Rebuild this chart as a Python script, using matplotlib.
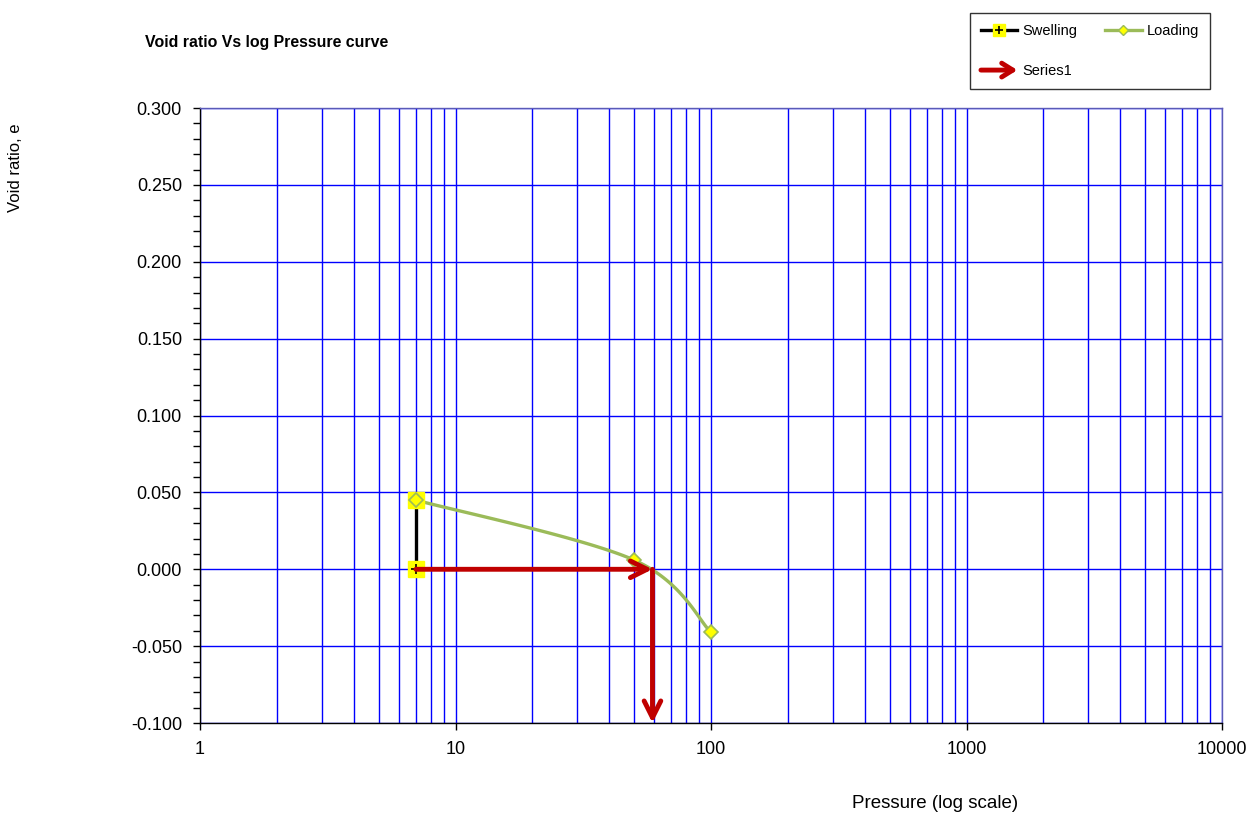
import numpy as np
import matplotlib
matplotlib.use("Agg")
import matplotlib.pyplot as plt
from matplotlib.lines import Line2D
from matplotlib.legend_handler import HandlerBase

plt.rcParams['font.family'] = ['Liberation Sans', 'DejaVu Sans']

# ---- data ----
swell_p = [7, 7]
swell_e = [0.045, 0.000]

load_p = [7, 50, 100]
load_e = [0.045, 0.006, -0.041]

# pre-consolidation construction: along e0 to the curve, then down
arrow_p = [7, 59, 59]
arrow_e = [0.000, 0.000, -0.100]

yticks = [-0.100, -0.050, 0.000, 0.050, 0.100, 0.150, 0.200, 0.250, 0.300]
xticks = [1, 10, 100, 1000, 10000]

GREEN = '#9BBB59'
RED = '#C00000'
GRID = '#0000FF'


def smooth(xs, ys, n=60):
    """Catmull-Rom style Bezier smoothing in (log10 x, y) space."""
    lx = np.log10(np.asarray(xs, float))
    yy = np.asarray(ys, float)
    P = np.column_stack([lx, yy])
    out = []
    m = len(P)
    for i in range(m - 1):
        p0 = P[i - 1] if i > 0 else P[i]
        p1 = P[i]
        p2 = P[i + 1]
        p3 = P[i + 2] if i + 2 < m else P[i + 1]
        c1 = p1 + (p2 - p0) / 6.0
        c2 = p2 - (p3 - p1) / 6.0
        t = np.linspace(0, 1, n)[:, None]
        seg = ((1 - t) ** 3) * p1 + 3 * ((1 - t) ** 2) * t * c1 + 3 * (1 - t) * t ** 2 * c2 + t ** 3 * p2
        out.append(seg if i == 0 else seg[1:])
    pts = np.vstack(out)
    return 10 ** pts[:, 0], pts[:, 1]


fig = plt.figure(figsize=(12.57, 8.17), dpi=100)
ax = fig.add_axes([0.1591, 0.1150, 0.8131, 0.7528])
ax.set_xscale('log')
ax.set_xlim(1, 10000)
ax.set_ylim(-0.1, 0.3)

# grid
ax.set_xticks(xticks)
ax.set_xticks([m * 10 ** d for d in range(4) for m in range(2, 10)], minor=True)
ax.set_yticks(yticks)
ax.set_yticks(np.arange(-0.1, 0.3001, 0.01), minor=True)
ax.grid(True, which='major', axis='y', color=GRID, lw=1.0)
ax.grid(True, which='both', axis='x', color=GRID, lw=1.0)
ax.set_axisbelow(True)

ax.set_xticklabels([str(v) for v in xticks])
ax.set_yticklabels(['%.3f' % v for v in yticks])
ax.tick_params(axis='x', which='major', direction='out', length=5, width=1, labelsize=13, pad=8)
ax.tick_params(axis='x', which='minor', length=0)
ax.tick_params(axis='y', which='both', direction='out', length=5, width=1, labelsize=13, pad=8)

for s in ('top', 'right'):
    ax.spines[s].set_color('#5a5ab8')
    ax.spines[s].set_linewidth(1)
for s in ('left', 'bottom'):
    ax.spines[s].set_color('black')
    ax.spines[s].set_linewidth(1)

# loading curve
sx, sy = smooth(load_p, load_e)
ax.plot(sx, sy, color=GREEN, lw=2.4, zorder=3)

# swelling line
ax.plot(swell_p, swell_e, color='black', lw=2.4, zorder=4)
ax.plot(swell_p, swell_e, ls='none', marker='s', ms=11, mfc='#FFFF00', mec='#FFFF00', zorder=4)
ax.plot(swell_p, swell_e, ls='none', marker='+', ms=7, mec='black', mew=1.2, zorder=4)

# loading markers
ax.plot(load_p, load_e, ls='none', marker='D', ms=7.5, mfc='#FFFF00', mec=GREEN, mew=1.2, zorder=5)

# arrows
for i in range(len(arrow_p) - 1):
    ax.annotate('', xy=(arrow_p[i + 1], arrow_e[i + 1]), xytext=(arrow_p[i], arrow_e[i]),
                arrowprops=dict(arrowstyle='->,head_length=1.2,head_width=0.6',
                                color=RED, lw=3.5, shrinkA=0, shrinkB=0),
                zorder=6, annotation_clip=False)

# text
fig.text(145 / 1257, 1 - 43 / 817, 'Void ratio Vs log Pressure curve', fontsize=11.4,
         fontweight='bold', ha='left', va='center')
fig.text(935 / 1257, 1 - 804 / 817, 'Pressure (log scale)', fontsize=13.5, ha='center', va='center')
fig.text(16 / 1257, 1 - 168 / 817, 'Void ratio, e', fontsize=12, rotation=90, ha='center', va='center')


# legend
class ArrowHandler(HandlerBase):
    def create_artists(self, legend, orig, xd, yd, w, h, fontsize, trans):
        from matplotlib.patches import FancyArrowPatch
        a = FancyArrowPatch((xd, yd + h / 2), (xd + w, yd + h / 2),
                            arrowstyle='->,head_length=8,head_width=5',
                            color=RED, lw=3.5, transform=trans, shrinkA=0, shrinkB=0)
        return [a]


class SwellHandler(HandlerBase):
    def create_artists(self, legend, orig, xd, yd, w, h, fontsize, trans):
        y = yd + h / 2
        l = Line2D([xd, xd + w], [y, y], color='black', lw=2.4, transform=trans)
        m1 = Line2D([xd + w / 2], [y], marker='s', ms=8, mfc='#FFFF00', mec='#FFFF00', transform=trans)
        m2 = Line2D([xd + w / 2], [y], marker='+', ms=6, mec='black', mew=1.2, transform=trans)
        return [l, m1, m2]


h_swell = Line2D([], [], color='black')
h_load = Line2D([], [], color=GREEN, lw=2.4, marker='D', ms=5, mfc='#FFFF00', mec=GREEN)
h_arrow = Line2D([], [], color=RED)

# column-major fill: first column Swelling/Series1, second column Loading
leg = fig.legend([h_swell, h_arrow, h_load], ['Swelling', 'Series1', 'Loading'],
                 handler_map={h_swell: SwellHandler(), h_arrow: ArrowHandler()},
                 loc='upper left', bbox_to_anchor=(970 / 1257, 1 - 13 / 817),
                 borderaxespad=0.0,
                 ncol=2, fontsize=10.5, frameon=True, fancybox=False,
                 edgecolor='black', handlelength=2.5, handletextpad=0.35,
                 columnspacing=1.9, labelspacing=1.8, borderpad=0.75)
leg.get_frame().set_linewidth(1.0)

fig.savefig('out.png', dpi=100)
